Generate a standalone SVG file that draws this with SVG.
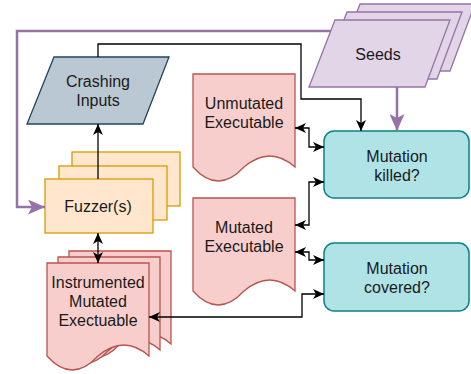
<svg xmlns="http://www.w3.org/2000/svg" width="471" height="374" viewBox="0 0 471 374">
<style>
text{font-family:"Liberation Sans",Arial,sans-serif;font-size:16px;fill:#1a1a1a;text-anchor:middle}
.doc{fill:#f8cecc;stroke:#b85450;stroke-width:1.3}
.fz{fill:#ffe6cc;stroke:#d79b00;stroke-width:1.3}
.sd{fill:#e1d5e7;stroke:#9673a6;stroke-width:1.3}
.ci{fill:#bac8d3;stroke:#23445d;stroke-width:1.3}
.mb{fill:#b0e3e6;stroke:#0e8088;stroke-width:1.5}
.c{fill:none;stroke:#000;stroke-width:1.3}
.cp{fill:none;stroke:#9673a6;stroke-width:2.5}
</style>
<defs>
<marker id="a" markerUnits="userSpaceOnUse" markerWidth="11" markerHeight="10" refX="11" refY="5" orient="auto-start-reverse" viewBox="0 0 11 10"><path d="M0,0 L11,5 L0,10 L3,5 Z" fill="#000"/></marker>
<marker id="ap" markerUnits="userSpaceOnUse" markerWidth="17" markerHeight="15" refX="17" refY="7.5" orient="auto-start-reverse" viewBox="0 0 17 15"><path d="M0,0 L17,7.5 L0,15 L4,7.5 Z" fill="#9673a6"/></marker>
<path id="docshape" d="M0,0 H102 V93 Q77,71 51,93 Q25,121 0,93 Z"/>
</defs>

<g id="seeds">
<polygon class="sd" points="360,4 475,4 450,71 334,71"/>
<polygon class="sd" points="347,12 462,12 437,79 321,79"/>
<polygon class="sd" points="335,20 450,20 425,87 309,87"/>
<text x="378" y="60">Seeds</text>
</g>

<g id="crashing-inputs">
<polygon class="ci" points="54,57 169,57 143,124 27,124"/>
<text x="98" y="87">Crashing</text>
<text x="98" y="106">Inputs</text>
</g>

<g id="fuzzers">
<rect class="fz" x="72" y="152" width="108" height="54"/>
<rect class="fz" x="59" y="166" width="108" height="54"/>
<rect class="fz" x="45" y="179" width="108" height="54"/>
<text x="98" y="212">Fuzzer(s)</text>
</g>

<g id="instrumented">
<use href="#docshape" class="doc" x="69" y="251"/>
<use href="#docshape" class="doc" x="58" y="257"/>
<use href="#docshape" class="doc" x="47" y="263"/>
<text x="98" y="288">Instrumented</text>
<text x="98" y="307">Mutated</text>
<text x="98" y="326">Exectuable</text>
</g>

<g id="unmutated">
<use href="#docshape" class="doc" x="193" y="74"/>
<text x="244" y="109">Unmutated</text>
<text x="244" y="128">Executable</text>
</g>

<g id="mutated">
<use href="#docshape" class="doc" x="193" y="198"/>
<text x="244" y="233">Mutated</text>
<text x="244" y="252">Executable</text>
</g>

<g id="killed">
<rect class="mb" x="324" y="131" width="145" height="67" rx="10"/>
<text x="397" y="162">Mutation</text>
<text x="397" y="181">killed?</text>
</g>

<g id="covered">
<rect class="mb" x="324" y="243" width="145" height="68" rx="10"/>
<text x="397" y="274">Mutation</text>
<text x="397" y="293">covered?</text>
</g>

<g id="connectors">
<polyline class="cp" points="331,31 17,31 17,207 45,207" marker-end="url(#ap)"/>
<line class="cp" x1="397" y1="87" x2="397" y2="131" marker-end="url(#ap)"/>
<polyline class="c" points="98,57 98,44 301,44 301,99 361,99 361,131" marker-end="url(#a)"/>
<line class="c" x1="98" y1="179" x2="98" y2="124" marker-end="url(#a)"/>
<line class="c" x1="98" y1="233" x2="98" y2="263" marker-start="url(#a)" marker-end="url(#a)"/>
<polyline class="c" points="295,128 309,128 309,147 324,147" marker-start="url(#a)" marker-end="url(#a)"/>
<polyline class="c" points="295,225 309,225 309,182 324,182" marker-start="url(#a)" marker-end="url(#a)"/>
<polyline class="c" points="295,252 309,252 309,260 324,260" marker-start="url(#a)" marker-end="url(#a)"/>
<polyline class="c" points="149,317 302,317 302,294 324,294" marker-start="url(#a)" marker-end="url(#a)"/>
</g>
</svg>
